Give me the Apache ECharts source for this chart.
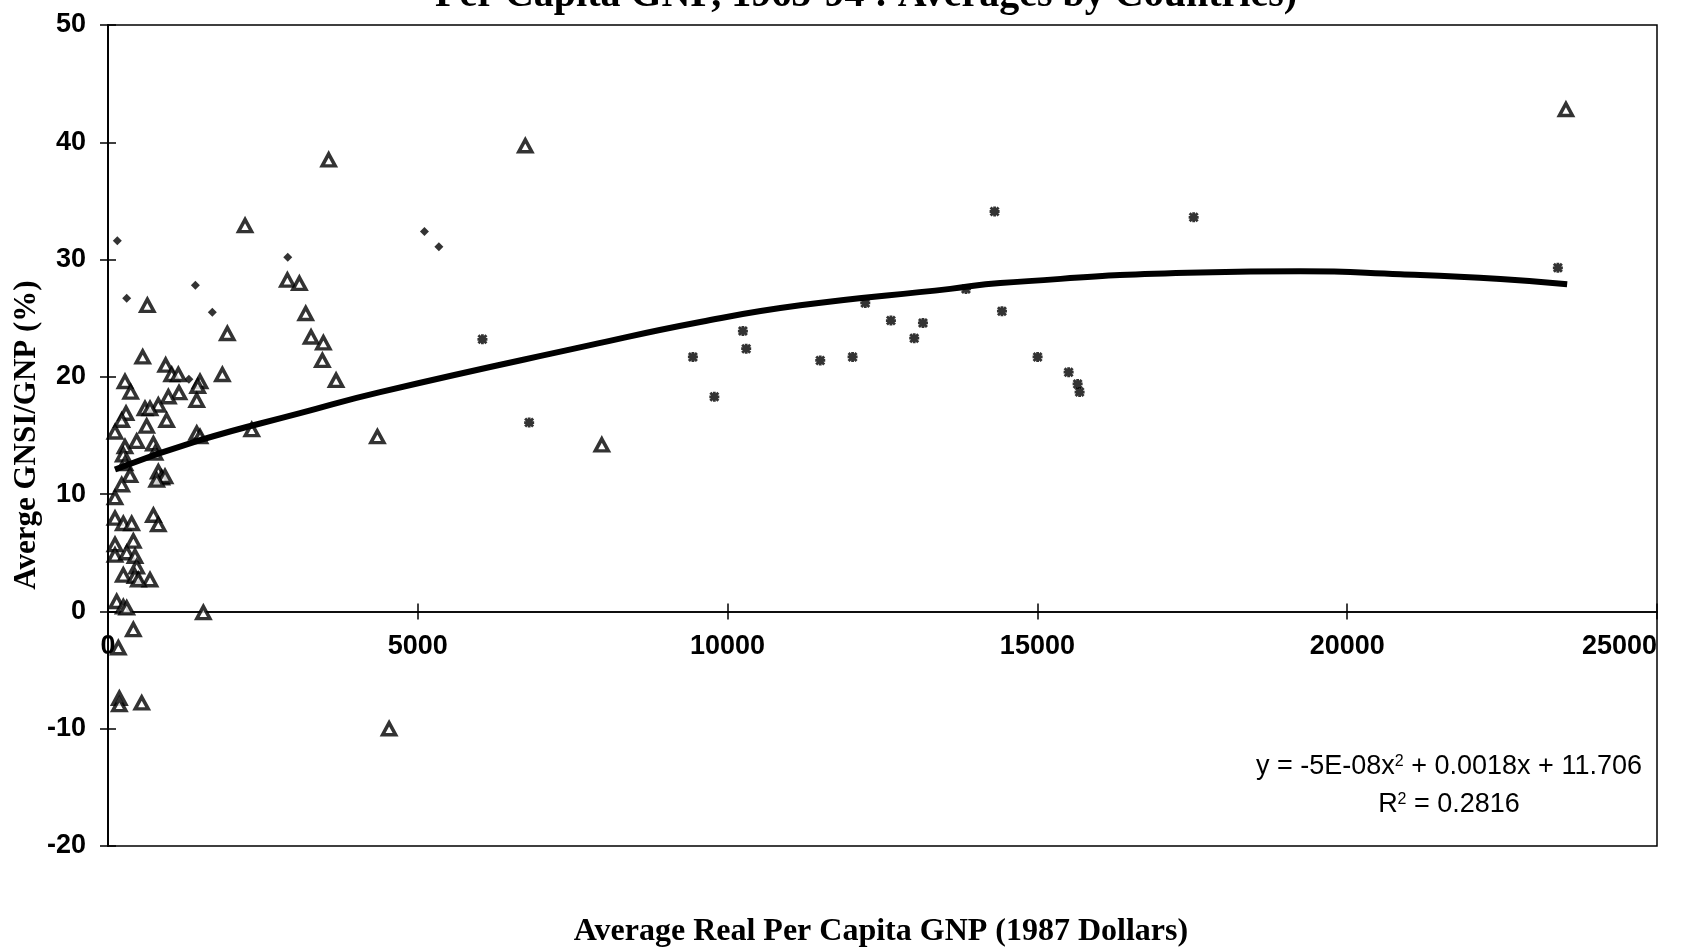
<!DOCTYPE html>
<html>
<head>
<meta charset="utf-8">
<script src="https://cdn.jsdelivr.net/npm/echarts@6/dist/echarts.min.js"></script>
<style>
  html, body { margin: 0; padding: 0; background: #fff; }
  #main { width: 1695px; height: 949px; }
</style>
</head>
<body>
<div id="main"></div>
<script>
// 数据 (x: per capita GNP, y: GNSI/GNP %)
var triangles = [
  [560, 21.7], [931, 21.0], [1028, 20.2], [1135, 20.2], [1846, 20.2], [1485, 19.6], [1448, 19.2],
  [274, 19.6], [366, 18.7], [1146, 18.65], [974, 18.3], [1432, 18.0], [812, 17.6], [597, 17.3],
  [678, 17.3], [291, 16.9], [221, 16.3], [947, 16.3], [624, 15.8], [113, 15.3], [1432, 15.2],
  [1485, 14.9], [2320, 15.5], [463, 14.5], [733, 14.3], [274, 14.05], [247, 13.35], [759, 13.5],
  [274, 12.6], [355, 11.6], [221, 10.8], [812, 11.9], [867, 11.4], [920, 11.5], [786, 11.2],
  [113, 9.7], [113, 7.95], [247, 7.5], [382, 7.5], [733, 8.2], [812, 7.4], [113, 5.7], [409, 6.0],
  [113, 4.8], [302, 5.0], [436, 4.7], [463, 3.8], [247, 3.1], [436, 3.0], [678, 2.7], [490, 2.7],
  [140, 0.85], [247, 0.4], [302, 0.3], [1539, -0.1], [409, -1.55], [167, -3.1], [183, -7.4],
  [183, -7.95], [544, -7.8], [4537, -10.0], [2212, 32.9], [635, 26.1], [1926, 23.7], [2895, 28.25],
  [3089, 27.97], [3191, 25.4], [3277, 23.4], [3476, 22.9], [3460, 21.4], [3681, 19.7], [4348, 14.9],
  [3562, 38.5], [6735, 39.7], [7970, 14.2], [23530, 42.8]
];
var diamonds = [
  [150, 31.6], [302, 26.7], [1410, 27.8], [2901, 30.2], [1684, 25.5], [1305, 19.8], [5107, 32.4], [5340, 31.1]
];
var crosses = [
  [6043, 23.2], [6797, 16.1], [9440, 21.7], [9786, 18.3], [10247, 23.9], [10300, 22.4], [11495, 21.4],
  [12017, 21.7], [12222, 26.3], [12636, 24.8], [13012, 23.3], [13153, 24.6], [13847, 27.5], [14309, 34.1],
  [14428, 25.6], [15003, 21.7], [15504, 20.4], [15649, 19.4], [15681, 18.7], [17522, 33.6], [23400, 29.3]
];
// 趋势线
var trendLine = [
  [113, 12.1], [1485, 14.6], [3100, 16.9], [4391, 18.7], [7782, 22.7], [9579, 24.7], [11172, 26.1],
  [13594, 27.5], [14401, 28.0], [17630, 28.9], [19244, 29.0], [20859, 28.75], [22473, 28.35], [23550, 27.9]
];
var xTicks = { min: 0, max: 25000, interval: 5000 };
var yTicks = { min: -20, max: 50, interval: 10 };

var sans = '"Liberation Sans", Arial, sans-serif';
var serif = '"Liberation Serif", "Times New Roman", serif';
var crossPath = 'path://M0,2L2,0L5,3L8,0L10,2L7,5L10,8L8,10L5,7L2,10L0,8L3,5Z M0,3.6L10,3.6L10,6.4L0,6.4Z M3.6,0L6.4,0L6.4,10L3.6,10Z';

// grid
var gridTop = 25, gridBottom = 103, chartH = 949;
var plotH = chartH - gridTop - gridBottom;
// x axis sits on y = 0: move it up from the grid bottom
var zeroOffset = -plotH * (0 - yTicks.min) / (yTicks.max - yTicks.min);

var myChart = echarts.init(document.getElementById('main'));
var labelStyle = { color: '#000', fontSize: 27, fontWeight: 'bold', fontFamily: sans, margin: 22 };
var option = {
  backgroundColor: '#fff',
  animation: false,
  grid: { left: 108, right: 38, top: gridTop, bottom: gridBottom, show: true, borderColor: '#000', borderWidth: 1.5 },
  xAxis: [
    {
      type: 'value', position: 'bottom', offset: zeroOffset, min: xTicks.min, max: xTicks.max, interval: xTicks.interval,
      axisLine: { onZero: false, lineStyle: { color: '#000', width: 1.5 } },
      axisTick: { length: 8, lineStyle: { color: '#000', width: 1.5 } },
      axisLabel: Object.assign({ formatter: function (v) { return String(v); }, alignMaxLabel: 'right' }, labelStyle),
      splitLine: { show: false }
    },
    {
      type: 'value', position: 'bottom', offset: zeroOffset, min: xTicks.min, max: xTicks.max, interval: xTicks.interval,
      axisLine: { onZero: false, lineStyle: { color: '#000', width: 1.5 } },
      axisTick: { inside: true, length: 8, lineStyle: { color: '#000', width: 1.5 } },
      axisLabel: { show: false },
      splitLine: { show: false }
    }
  ],
  yAxis: [
    {
      type: 'value', position: 'left', offset: 0, min: yTicks.min, max: yTicks.max, interval: yTicks.interval,
      axisLine: { show: true, onZero: false, lineStyle: { color: '#000', width: 1.5 } },
      axisTick: { show: true, length: 8, lineStyle: { color: '#000', width: 1.5 } },
      axisLabel: labelStyle,
      splitLine: { show: false }
    },
    {
      type: 'value', position: 'left', offset: 0, min: yTicks.min, max: yTicks.max, interval: yTicks.interval,
      axisLine: { show: true, onZero: false, lineStyle: { color: '#000', width: 1.5 } },
      axisTick: { show: true, inside: true, length: 8, lineStyle: { color: '#000', width: 1.5 } },
      axisLabel: { show: false },
      splitLine: { show: false }
    }
  ],
  graphic: [
    {
      type: 'text', x: 866, y: -4, silent: true,
      style: { text: 'Per Capita GNP, 1965-94 : Averages by Countries)', font: 'bold 40px ' + serif, fill: '#000', textAlign: 'center', textVerticalAlign: 'middle' }
    },
    {
      type: 'text', x: 881, y: 932, silent: true,
      style: { text: 'Average Real Per Capita GNP (1987 Dollars)', font: 'bold 32px ' + serif, fill: '#000', textAlign: 'center', textVerticalAlign: 'middle' }
    },
    {
      type: 'text', x: 27, y: 435, rotation: Math.PI / 2, silent: true,
      style: { text: 'Averge GNSI/GNP (%)', font: 'bold 31px ' + serif, fill: '#000', textAlign: 'center', textVerticalAlign: 'middle' }
    },
    {
      type: 'text', x: 1449, y: 767, silent: true,
      style: {
        text: 'y = -5E-08x{s|2} + 0.0018x + 11.706', font: '27px ' + sans, fill: '#000',
        textAlign: 'center', textVerticalAlign: 'middle',
        rich: { s: { fontSize: 16, fontFamily: sans, verticalAlign: 'top', lineHeight: 14 } }
      }
    },
    {
      type: 'text', x: 1449, y: 805, silent: true,
      style: {
        text: 'R{s|2} = 0.2816', font: '27px ' + sans, fill: '#000',
        textAlign: 'center', textVerticalAlign: 'middle',
        rich: { s: { fontSize: 16, fontFamily: sans, verticalAlign: 'top', lineHeight: 14 } }
      }
    }
  ],
  series: [
    {
      name: 'triangles', type: 'scatter', data: triangles,
      symbol: 'triangle', symbolSize: [13, 12],
      itemStyle: { color: '#fff', borderColor: '#000', borderWidth: 3.5 }
    },
    {
      name: 'diamonds', type: 'scatter', data: diamonds,
      symbol: 'diamond', symbolSize: 9,
      itemStyle: { color: '#000' }
    },
    {
      name: 'crosses', type: 'scatter', data: crosses,
      symbol: crossPath, symbolSize: 10,
      itemStyle: { color: '#000' }
    },
    {
      name: 'trend', type: 'line', data: trendLine, smooth: true, showSymbol: false,
      lineStyle: { color: '#000', width: 6 }, z: 5
    }
  ]
};
myChart.setOption(option);
window.addEventListener('resize', function () {
  myChart.resize();
});
</script>
</body>
</html>
